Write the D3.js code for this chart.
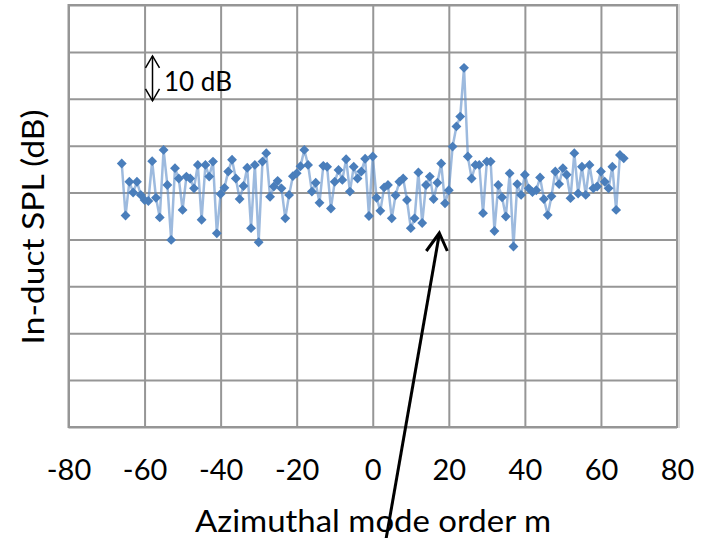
<!DOCTYPE html>
<html><head><meta charset="utf-8">
<script src="https://cdn.jsdelivr.net/npm/d3@7/dist/d3.min.js"></script>
<style>body{margin:0;background:#fff;} svg{display:block;}</style>
</head><body>
<svg id="c" width="704" height="538"></svg>
<script>
// Azimuthal mode order m
const modeOrder = [-66,-65,-64,-63,-62,-61,-60,-59,-58,-57,-56,-55,-54,-53,-52,-51,-50,-49,-48,-47,-46,-45,-44,-43,-42,-41,-40,
  -39,-38,-37,-36,-35,-34,-33,-32,-31,-30,-29,-28,-27,-26,-25,-24,-23,-22,-21,-20,-19,-18,-17,-16,-15,-14,-13,-12,-11,-10,
  -9,-8,-7,-6,-5,-4,-3,-2,-1,0,1,2,3,4,5,6,7,8,9,10,11,12,13,14,15,16,17,18,19,20,21,22,23,24,25,26,27,28,29,30,
  31,32,33,34,35,36,37,38,39,40,41,42,43,44,45,46,47,48,49,50,51,52,53,54,55,56,57,58,59,60,61,62,63,64,65,66];
// In-duct SPL (dB, relative)
const splDb = [56.2,45.1,52.3,50.0,52.3,49.5,48.4,48.2,56.7,48.9,44.7,59.1,51.6,39.9,55.2,53.0,46.3,53.4,53.0,50.9,55.9,44.2,55.9,53.4,56.6,41.3,49.7,
  51.0,54.5,57.0,53.0,48.6,51.4,55.3,42.4,55.9,39.4,56.6,58.4,49.1,51.3,52.5,50.9,44.5,49.5,53.5,54.1,55.6,59.1,55.9,50.2,52.1,47.8,55.7,55.5,46.6,52.3,
  54.8,52.7,57.1,50.2,55.5,53.0,54.5,57.2,45.0,57.7,48.9,46.1,51.1,51.6,44.5,49.4,52.3,53.0,48.4,42.4,44.5,54.3,43.5,51.6,53.4,48.6,52.1,56.2,47.7,50.5,59.8,64.1,66.2,76.6,57.7,53.0,55.9,55.9,45.6,56.6,
  56.6,41.8,51.6,49.0,44.9,54.1,38.5,51.8,49.5,53.8,50.9,50.1,50.5,53.2,48.6,45.2,49.2,54.5,51.8,55.2,53.8,48.8,58.4,49.8,55.5,49.5,55.9,50.9,51.3,54.5,52.3,50.9,55.5,46.3,58.0,57.3];
const xTickValues = [-80,-60,-40,-20,0,20,40,60,80];
const xGridValues = [-80,-60,-40,-20,0,20,40,60,80];
const yGridValues = [0,10,20,30,40,50,60,70,80,90];
const xTitle = "Azimuthal mode order m";
const yTitle = "In-duct SPL (dB)";
const scaleLabel = "10 dB";

const svg = d3.select("#c");
const L = 68.5, R = 677, T = 5, B = 427;
const x = d3.scaleLinear().domain([-80, 80]).range([L, R]);
const y = d3.scaleLinear().domain([0, 90]).range([B, T]);
const FONT = "Lato, 'Open Sans', sans-serif";
const GRID = "#969696";

// horizontal grid
const gy = svg.append("g").attr("transform", `translate(${L},0)`)
  .call(d3.axisLeft(y).tickValues(yGridValues).tickSize(-(R - L)).tickFormat(""));
gy.select(".domain").remove();
gy.selectAll("line").attr("stroke", GRID).attr("stroke-width", 2);

// vertical grid
const gx = svg.append("g").attr("transform", `translate(0,${B})`)
  .call(d3.axisBottom(x).tickValues(xGridValues).tickSize(-(B - T)).tickFormat(""));
gx.select(".domain").remove();
gx.selectAll("line").attr("stroke", GRID).attr("stroke-width", 2);

// tick labels
const gl = svg.append("g").attr("transform", `translate(0,${B})`)
  .call(d3.axisBottom(x).tickValues(xTickValues).tickSize(0).tickPadding(32).tickFormat(d3.format("d")));
gl.select(".domain").remove();
gl.selectAll("text").attr("font-family", FONT).attr("font-size", 29).attr("fill", "#000")
  .text(d => d < 0 ? "-" + Math.abs(d) : d);

// frame
svg.append("rect").attr("x", L).attr("y", T).attr("width", R - L).attr("height", B - T)
  .attr("fill", "none").attr("stroke", GRID).attr("stroke-width", 2);
svg.append("line").attr("x1", R + 2).attr("x2", R + 2).attr("y1", T - 1).attr("y2", B + 1)
  .attr("stroke", "#d9d9d9").attr("stroke-width", 2);

// series
const pts = modeOrder.map((m, i) => [m, splDb[i]]);
svg.append("path").datum(pts)
  .attr("d", d3.line().x(d => x(d[0])).y(d => y(d[1])))
  .attr("fill", "none").attr("stroke", "#5B8CC8").attr("stroke-opacity", 0.6).attr("stroke-width", 2.5);
svg.append("g").selectAll("path").data(pts).join("path")
  .attr("transform", d => `translate(${x(d[0])},${y(d[1])})`)
  .attr("d", d3.symbol(d3.symbolDiamond2, 62))
  .attr("fill", "#4A7EBB");

// 10 dB scale marker
const ax = 152.5, y1 = y(80) + 4, y2 = y(70) + 2;
svg.append("line").attr("x1", ax).attr("x2", ax).attr("y1", y1).attr("y2", y2)
  .attr("stroke", "#000").attr("stroke-width", 1.5);
svg.append("path").attr("d", `M${ax-7},${y1+12}L${ax},${y1}L${ax+7},${y1+12}M${ax-7},${y2-12}L${ax},${y2}L${ax+7},${y2-12}`)
  .attr("fill", "none").attr("stroke", "#000").attr("stroke-width", 1.5);
svg.append("text").attr("x", 164).attr("y", 91).attr("font-family", FONT).attr("font-size", 26)
  .attr("fill", "#000").text(scaleLabel);

// axis titles
svg.append("text").attr("x", (195 + 551) / 2).attr("y", 532).attr("text-anchor", "middle")
  .attr("font-family", FONT).attr("font-size", 31).attr("textLength", 356).attr("lengthAdjust", "spacingAndGlyphs")
  .attr("fill", "#000").text(xTitle);
svg.append("text").attr("transform", "translate(44,227) rotate(-90)").attr("text-anchor", "middle")
  .attr("font-family", FONT).attr("font-size", 30).attr("textLength", 235).attr("lengthAdjust", "spacingAndGlyphs")
  .attr("fill", "#000").text(yTitle);

// pointer arrow
const tipX = x(17.5), tipY = 233;
svg.append("line").attr("x1", 385).attr("y1", 545).attr("x2", tipX).attr("y2", tipY + 1)
  .attr("stroke", "#000").attr("stroke-width", 3);
svg.append("path").attr("d", `M${tipX-13},${tipY+18}L${tipX},${tipY}L${tipX+8},${tipY+18}`)
  .attr("fill", "none").attr("stroke", "#000").attr("stroke-width", 3);
</script>
</body></html>
